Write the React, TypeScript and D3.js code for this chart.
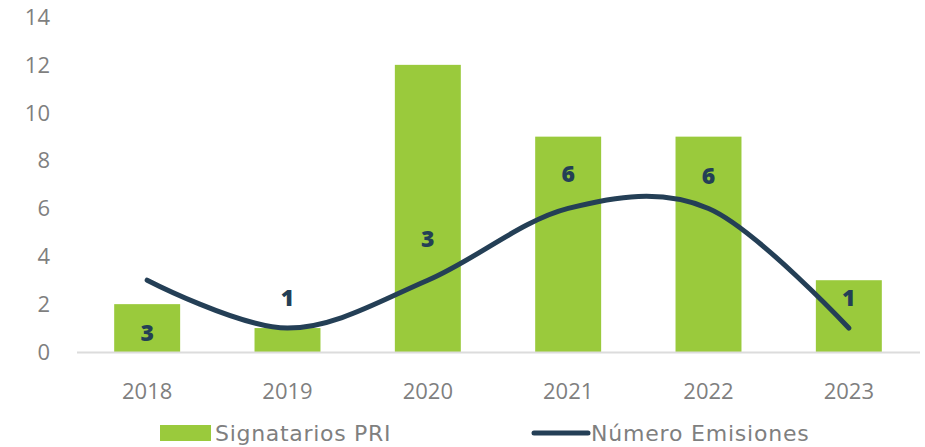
import React from "react";
import * as d3 from "d3";

const years = ["2018", "2019", "2020", "2021", "2022", "2023"];
const signatarios = [2, 1, 12, 9, 9, 3];
const emisiones = [3, 1, 3, 6, 6, 1];
// where each emisiones label sits, in axis units
const labelY = [0.8, 2.25, 4.75, 7.45, 7.35, 2.25];
const yTicks = [0, 2, 4, 6, 8, 10, 12, 14];

const width = 925;
const height = 447;
const margin = { top: 17, right: 6, bottom: 95, left: 77 };

const green = "#9aca3c";
const navy = "#243f56";
const grey = "#7f7f7f";
const font = "'Open Sans', 'DejaVu Sans', sans-serif";
const legendFont = "'DejaVu Sans', sans-serif";

const xScale = d3.scaleBand<string>()
  .domain(years)
  .range([margin.left, width - margin.right])
  .paddingInner(0.53)
  .paddingOuter(0.265);

const yScale = d3.scaleLinear().domain([0, 14]).range([height - margin.bottom, margin.top]);

const cx = (i: number) => (xScale(years[i]) as number) + xScale.bandwidth() / 2;

const lineGen = d3.line<number>()
  .x((_, i) => cx(i))
  .y((d) => yScale(d))
  .curve(d3.curveCardinal.tension(0));

export default function App() {
  const base = yScale(0);
  return (
    <svg width={width} height={height} style={{ position: "absolute", left: 0, top: 0, background: "#fff" }}>
      {/* y tick labels */}
      {yTicks.map((t) => (
        <text key={t} x={50} y={yScale(t)} dy="0.36em" textAnchor="end" fontFamily={font} fontSize={22} fill={grey}>
          {t}
        </text>
      ))}

      {/* bars */}
      {signatarios.map((v, i) => (
        <rect key={years[i]} x={xScale(years[i])} y={yScale(v)} width={xScale.bandwidth()} height={base - yScale(v)} fill={green} />
      ))}

      {/* x axis line */}
      <line x1={margin.left} x2={width - margin.right + 1} y1={base + 0.5} y2={base + 0.5} stroke="#dcdcdc" strokeWidth={2} />

      {/* x labels */}
      {years.map((y, i) => (
        <text key={y} x={cx(i)} y={base + 39} dy="0.36em" textAnchor="middle" fontFamily={font} fontSize={22} fill={grey}>
          {y}
        </text>
      ))}

      {/* line series */}
      <path d={lineGen(emisiones) as string} fill="none" stroke={navy} strokeWidth={5} strokeLinecap="round" />

      {/* data labels */}
      {emisiones.map((v, i) => (
        <text key={i} x={cx(i)} y={yScale(labelY[i])} dy="0.36em" textAnchor="middle" fontFamily={font} fontWeight={800} fontSize={23} fill={navy}>
          {v}
        </text>
      ))}

      {/* legend */}
      <rect x={160} y={425} width={51} height={16} fill={green} />
      <text x={215} y={433} dy="0.36em" fontFamily={legendFont} fontSize={22} letterSpacing={0.7} fill={grey}>Signatarios PRI</text>
      <line x1={534} x2={588} y1={433} y2={433} stroke={navy} strokeWidth={5} strokeLinecap="round" />
      <text x={591} y={433} dy="0.36em" fontFamily={legendFont} fontSize={22} letterSpacing={0.8} fill={grey}>Número Emisiones</text>
    </svg>
  );
}
